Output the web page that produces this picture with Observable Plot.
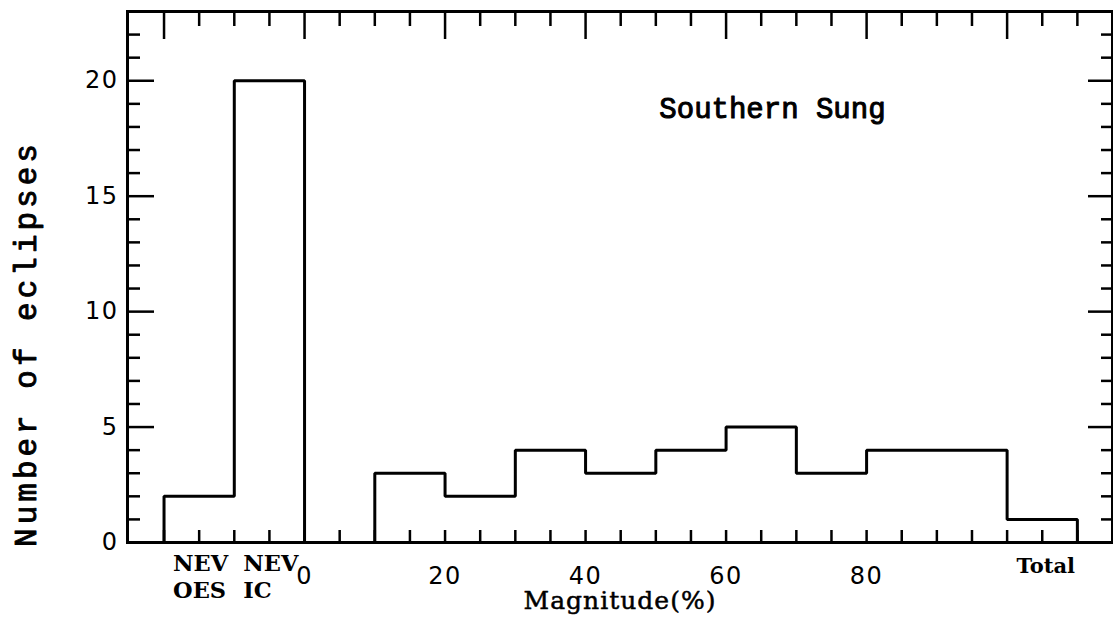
<!DOCTYPE html>
<html><head><meta charset="utf-8">
<script src="https://cdn.jsdelivr.net/npm/d3@7"></script>
<script src="https://cdn.jsdelivr.net/npm/@observablehq/plot@0.6"></script>
<style>
body{margin:0;background:#fff;}
#chart{width:1113px;height:618px;}
</style>
</head><body><div id="chart"></div>
<script>
// ---- data ----
const binStart = [-20, -10, 10, 20, 30, 40, 50, 60, 70, 80, 100];
const binEnd   = [-10,   0, 20, 30, 40, 50, 60, 70, 80, 100, 110];
const counts   = [  2,  20,  3,  2,  4,  3,  4,  5,  3,  4,   1];
const nevX      = [-20, -10];
const nevLabels = ["NEV\nOES", "NEV\nIC"];
const totalX     = [105.5];
const totalLabel = ["Total"];
const xTickLabels = [0, 20, 40, 60, 80];
const yTickLabels = [0, 5, 10, 15, 20];
const titleText = ["Southern Sung"];
const titleX = [66.6];
const titleY = [18.4];
const xTitle = "Magnitude(%)";
const yTitle = "Number of eclipses";

// ---- outline of the histogram (step line, broken at the gap) ----
const outline = [];
let seg = 0;
binStart.forEach((s, i) => {
  if (i === 0 || binEnd[i - 1] !== s) {
    if (i > 0) outline.push({x: binEnd[i - 1], y: 0, seg});
    seg++;
    outline.push({x: s, y: 0, seg});
  }
  outline.push({x: s, y: counts[i], seg}, {x: binEnd[i], y: counts[i], seg});
});
outline.push({x: binEnd[binEnd.length - 1], y: 0, seg});

const xAll = d3.range(-20, 111, 5);
const xMajor = xAll.filter(d => d % 20 === 0);
const xMinor = xAll.filter(d => d % 20 !== 0);
const yMinor = d3.range(1, 23).filter(d => d % 5 !== 0);
const yMajor = [5, 10, 15, 20];
const none = () => "";
const tk = {stroke: "black", strokeWidth: 2.5, label: null, tickFormat: none};

const chart = Plot.plot({
  width: 1113, height: 618,
  marginTop: 11, marginBottom: 76, marginLeft: 127, marginRight: 1,
  x: {domain: [-25.2, 115], axis: null},
  y: {domain: [0, 23], axis: null},
  marks: [
    // ticks (inward)
    Plot.axisX(xAll, {anchor: "bottom", tickSize: -12, ...tk}),
    Plot.axisX(xMinor, {anchor: "top", tickSize: -14, ...tk}),
    Plot.axisX(xMajor, {anchor: "top", tickSize: -27, ...tk}),
    Plot.axisY(yMinor, {anchor: "left", tickSize: -13, ...tk}),
    Plot.axisY(yMajor, {anchor: "left", tickSize: -27, ...tk}),
    Plot.axisY(yMinor, {anchor: "right", tickSize: -12, ...tk}),
    Plot.axisY(yMajor, {anchor: "right", tickSize: -25, ...tk}),
    // tick labels
    Plot.axisX(xTickLabels, {anchor: "bottom", tickSize: 0, tickPadding: 24, label: null,
      fontSize: 24, fontFamily: "DejaVu Sans", fill: "black"}),
    Plot.axisY(yTickLabels, {anchor: "left", tickSize: 0, tickPadding: 9, label: null,
      fontSize: 24, fontFamily: "DejaVu Sans", fill: "black"}),
    // histogram outline
    Plot.line(outline, {x: "x", y: "y", z: "seg", stroke: "black", strokeWidth: 3,
      strokeLinejoin: "miter", strokeLinecap: "square"}),
    Plot.frame({stroke: "black", strokeWidth: 3}),
    // category labels
    Plot.text(nevLabels, {x: nevX, frameAnchor: "bottom", text: d => d, textAnchor: "start",
      lineAnchor: "top", dx: 9, dy: 10, lineHeight: 1.17, fontSize: 22.5,
      fontFamily: "DejaVu Serif", fontWeight: "bold", fill: "black"}),
    Plot.text(totalLabel, {x: totalX, frameAnchor: "bottom", text: d => d, textAnchor: "middle",
      lineAnchor: "top", dy: 16, fontSize: 21, fontFamily: "DejaVu Serif", fontWeight: "bold", fill: "black"}),
    // annotation
    Plot.text(titleText, {x: titleX, y: titleY, text: d => d, lineAnchor: "bottom",
      fontSize: 29, fontFamily: "Liberation Mono", fill: "black", stroke: "black", strokeWidth: 1}),
    // axis titles
    Plot.text([xTitle], {frameAnchor: "bottom", text: d => d, textAnchor: "middle", lineAnchor: "bottom", dy: 66,
      fontSize: 25, fontFamily: "DejaVu Serif", fill: "black", stroke: "black", strokeWidth: 0.5}),
    Plot.text([yTitle], {frameAnchor: "left", text: d => d, textAnchor: "middle", lineAnchor: "middle",
      rotate: -90, dx: -101, dy: 66.5,
      fontSize: 31, fontFamily: "Liberation Mono", fill: "black", stroke: "black", strokeWidth: 0.9})
  ]
});
chart.querySelectorAll("text").forEach(t => {
  if (t.textContent === yTitle) t.style.letterSpacing = "4px";
  else if (t.textContent === xTitle) t.style.letterSpacing = "1px";
  else if (/^\d+$/.test(t.textContent)) t.style.letterSpacing = "1.5px";
});
document.getElementById("chart").appendChild(chart);
</script>
</body></html>
